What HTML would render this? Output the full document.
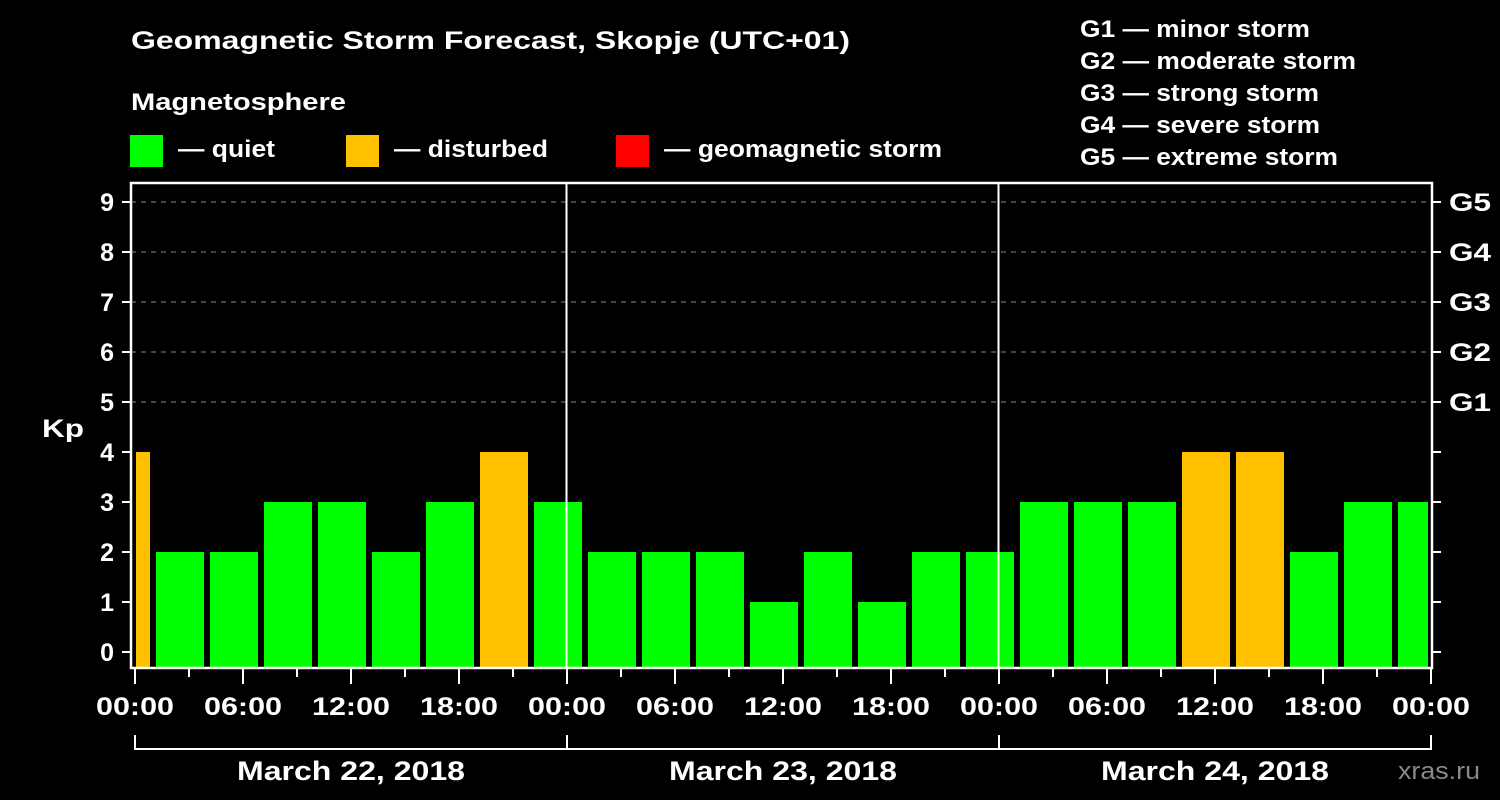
<!DOCTYPE html>
<html><head><meta charset="utf-8"><style>
html,body{margin:0;padding:0;background:#000;}
svg{display:block;font-family:"Liberation Sans",Arial,sans-serif;font-weight:bold;}
</style></head><body>
<svg id="chart" width="1500" height="800" viewBox="0 0 1500 800" xmlns="http://www.w3.org/2000/svg">
<rect width="1500" height="800" fill="#000"/>
<text x="131" y="49" fill="#fff" font-size="25" textLength="719" lengthAdjust="spacingAndGlyphs">Geomagnetic Storm Forecast, Skopje (UTC+01)</text>
<text x="131" y="110" fill="#fff" font-size="24" textLength="215" lengthAdjust="spacingAndGlyphs">Magnetosphere</text>
<rect x="130" y="135" width="33" height="32" fill="#00ff00"/>
<text x="178" y="157" fill="#fff" font-size="24" textLength="97" lengthAdjust="spacingAndGlyphs">— quiet</text>
<rect x="346" y="135" width="33" height="32" fill="#ffc000"/>
<text x="394" y="157" fill="#fff" font-size="24" textLength="154" lengthAdjust="spacingAndGlyphs">— disturbed</text>
<rect x="616" y="135" width="33" height="32" fill="#ff0000"/>
<text x="664" y="157" fill="#fff" font-size="24" textLength="278" lengthAdjust="spacingAndGlyphs">— geomagnetic storm</text>
<g fill="#fff" font-size="24">
<text x="1080" y="37" textLength="230" lengthAdjust="spacingAndGlyphs">G1 — minor storm</text>
<text x="1080" y="69" textLength="276" lengthAdjust="spacingAndGlyphs">G2 — moderate storm</text>
<text x="1080" y="101" textLength="239" lengthAdjust="spacingAndGlyphs">G3 — strong storm</text>
<text x="1080" y="133" textLength="240" lengthAdjust="spacingAndGlyphs">G4 — severe storm</text>
<text x="1080" y="165" textLength="258" lengthAdjust="spacingAndGlyphs">G5 — extreme storm</text>
</g>
<text x="42" y="437" fill="#fff" font-size="25" textLength="42" lengthAdjust="spacingAndGlyphs">Kp</text>
<text x="1398" y="779" fill="#888" font-size="24" font-weight="normal" textLength="82" lengthAdjust="spacingAndGlyphs">xras.ru</text>
<g id="plot"></g>
</svg>
<script>
const binStartHours = [-2,1,4,7,10,13,16,19,22,25,28,31,34,37,40,43,46,49,52,55,58,61,64,67,70];
const kpValues = [4,2,2,3,3,2,3,4,3,2,2,2,1,2,1,2,2,3,3,3,4,4,2,3,3];
const yTicks = [0,1,2,3,4,5,6,7,8,9];
const gLabels = ["G1","G2","G3","G4","G5"];
const gLevels = [5,6,7,8,9];
const timeLabels = ["00:00","06:00","12:00","18:00","00:00","06:00","12:00","18:00","00:00","06:00","12:00","18:00","00:00"];
const dayLabels = ["March 22, 2018","March 23, 2018","March 24, 2018"];

(function(){
const NS = "http://www.w3.org/2000/svg";
const plot = document.getElementById('plot');
const X0 = 135, PX_PER_HOUR = 18, Y0 = 652, PX_PER_KP = 50;
const pLeft = 131, pRight = 1432, pTop = 183, pBottom = 667;
const xScale = h => X0 + h * PX_PER_HOUR;
const yScale = v => Y0 - v * PX_PER_KP;
function mk(tag, attrs){const e=document.createElementNS(NS,tag);for(const k in attrs)e.setAttribute(k,attrs[k]);plot.appendChild(e);return e;}

gLevels.forEach(lv=>{
  const l = mk('line',{x1:pLeft,x2:pRight,y1:yScale(lv),y2:yScale(lv),stroke:'#888','stroke-width':1,'stroke-dasharray':'5,5'});
  
  
});
binStartHours.forEach((h,i)=>{
  const v = kpValues[i];
  const x1 = Math.max(xScale(h)+3, pLeft+5);
  const x2 = Math.min(xScale(h+3)-3, pRight-4);
  const color = v>=5 ? '#ff0000' : (v>=4 ? '#ffc000' : '#00ff00');
  const r = mk('rect',{x:x1,y:yScale(v),width:x2-x1,height:pBottom-yScale(v),fill:color});
  
  
});
[24,48].forEach(h=>{
  const l = mk('line',{x1:xScale(h)-0.5,x2:xScale(h)-0.5,y1:pTop,y2:pBottom,stroke:'#fff','stroke-width':2});
  
  
});
const fr = mk('rect',{x:pLeft,y:pTop,width:pRight-pLeft,height:pBottom-pTop+1,fill:'none',stroke:'#fff','stroke-width':2.5});


yTicks.forEach(v=>{
  const y = yScale(v);
  const t = mk('line',{x1:pLeft-9,x2:pLeft,y1:y,y2:y,stroke:'#fff','stroke-width':2});
  
  
  const t2 = mk('line',{x1:pRight,x2:pRight+9,y1:y,y2:y,stroke:'#fff','stroke-width':2});
  
  
  const lb = mk('text',{x:114,y:y+9,fill:'#fff','font-size':25,'text-anchor':'end'});
  lb.textContent = v;
  
  
});
gLabels.forEach((s,i)=>{
  const lb = mk('text',{x:1449,y:yScale(gLevels[i])+9,fill:'#fff','font-size':25,textLength:42,lengthAdjust:'spacingAndGlyphs'});
  lb.textContent = s;
  
  
});
for(let h=0; h<=72; h+=3){
  const x = xScale(h);
  const major = h%6===0;
  const t = mk('line',{x1:x,x2:x,y1:pBottom,y2:pBottom+(major?17:10),stroke:'#fff','stroke-width':2});
  
  
}
timeLabels.forEach((s,i)=>{
  const lb = mk('text',{x:xScale(i*6),y:715,fill:'#fff','font-size':25,'text-anchor':'middle',textLength:78,lengthAdjust:'spacingAndGlyphs'});
  lb.textContent = s;
  
  
});
const br = mk('path',{d:`M${xScale(0)} 735 V749 H${xScale(72)} V735 M${xScale(24)} 735 V749 M${xScale(48)} 735 V749`,fill:'none',stroke:'#fff','stroke-width':2});


dayLabels.forEach((s,i)=>{
  const lb = mk('text',{x:xScale(i*24+12),y:780,fill:'#fff','font-size':27,'text-anchor':'middle',textLength:228,lengthAdjust:'spacingAndGlyphs'});
  lb.textContent = s;
  
  
});
})();
</script>
</body></html>
